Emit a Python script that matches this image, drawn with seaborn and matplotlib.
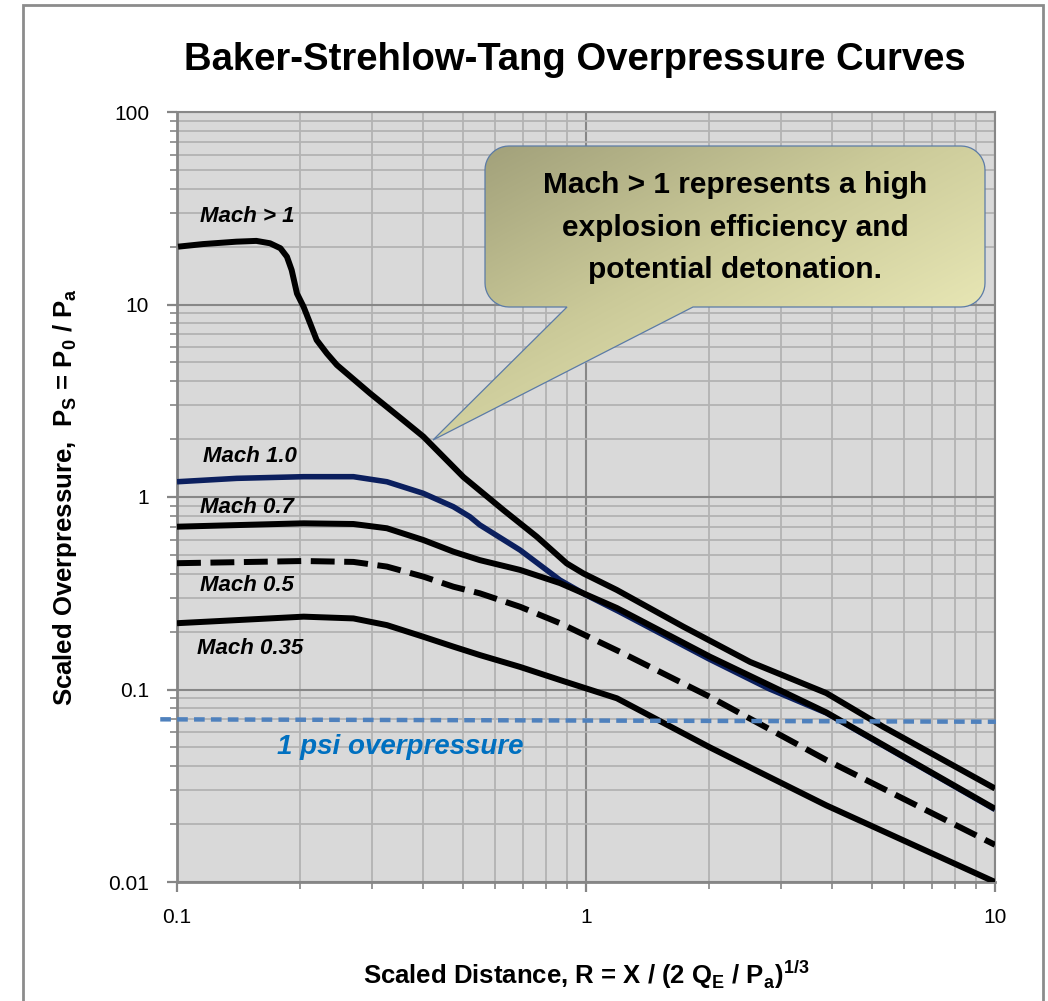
import numpy as np
import matplotlib
matplotlib.use('Agg')
import matplotlib.pyplot as plt
import seaborn as sns
from matplotlib.path import Path
from matplotlib.patches import PathPatch, Rectangle
from matplotlib.colors import LinearSegmentedColormap
from matplotlib.ticker import FuncFormatter, NullFormatter, LogLocator

sns.set_theme(style="whitegrid")
plt.rcParams['font.family'] = ['Liberation Sans', 'DejaVu Sans']
plt.rcParams.update({'text.color': 'black', 'axes.labelcolor': 'black',
                     'xtick.color': 'black', 'ytick.color': 'black'})

# ── data ─────────────────────────────────────────────────────────
mach_gt1_x = [0.1006, 0.1158, 0.1396, 0.1563, 0.1688, 0.179, 0.1857, 0.1907, 0.1965,
              0.2039, 0.2116, 0.2195, 0.2325, 0.246, 0.2963, 0.3571, 0.4003, 0.5015,
              0.628, 0.758, 0.897, 0.985, 1.189, 1.73, 2.52, 3.87, 5.33, 10.0]
mach_gt1_y = [19.97, 20.6, 21.2, 21.4, 20.8, 19.6, 17.7, 15.1, 11.4,
              9.74, 7.98, 6.54, 5.57, 4.85, 3.46, 2.51, 2.06, 1.27,
              0.856, 0.622, 0.452, 0.401, 0.329, 0.212, 0.139, 0.0958, 0.064, 0.0306]

mach10_x = [0.1, 0.14, 0.204, 0.27, 0.326, 0.40, 0.474, 0.52, 0.55, 0.69, 0.864, 1.0,
            1.2, 2.0, 2.8, 3.87, 10.0]
mach10_y = [1.20, 1.25, 1.275, 1.275, 1.20, 1.045, 0.89, 0.79, 0.716, 0.53, 0.37, 0.31,
            0.255, 0.144, 0.101, 0.0755, 0.0238]

mach07_x = [0.1, 0.204, 0.27, 0.326, 0.40, 0.474, 0.55, 0.69, 0.864, 1.19, 2.01, 3.87, 10.0]
mach07_y = [0.701, 0.73, 0.724, 0.688, 0.598, 0.52, 0.47, 0.418, 0.357, 0.265, 0.148, 0.076, 0.024]

mach05_x = [0.1, 0.204, 0.27, 0.326, 0.40, 0.474, 0.55, 0.69, 0.864, 1.21, 2.01, 3.87, 10.0]
mach05_y = [0.453, 0.465, 0.46, 0.435, 0.386, 0.342, 0.316, 0.269, 0.221, 0.157, 0.0915, 0.043, 0.0156]

mach035_x = [0.1, 0.204, 0.27, 0.326, 0.40, 0.474, 0.55, 0.69, 0.864, 1.19, 2.01, 3.87, 10.0]
mach035_y = [0.221, 0.239, 0.234, 0.216, 0.188, 0.167, 0.151, 0.131, 0.112, 0.090, 0.050, 0.025, 0.010]

psi_x = [0.091, 10.05]
psi_y = [0.070, 0.068]

mach_labels = ['Mach > 1', 'Mach 1.0', 'Mach 0.7', 'Mach 0.5', 'Mach 0.35']
label_x = [0.1139, 0.1155, 0.1139, 0.1139, 0.1119]
label_y = [28.5, 1.63, 0.877, 0.349, 0.164]

callout_lines = ['Mach > 1 represents a high', 'explosion efficiency and', 'potential detonation.']

BG = '#D9D9D9'; MAJ = '#878787'; MIN = '#B3B3B3'
NAVY = '#0B1F5E'; PSI = '#4F81BD'; PSI_TXT = '#0070C0'

fig = plt.figure(figsize=(10.48, 10.01), dpi=100)
fig.patch.set_facecolor('white')
ax = fig.add_axes([177/1048, 1-882/1001, (995-177)/1048, (882-112)/1001])
ax.set_facecolor(BG)
ax.set_xscale('log'); ax.set_yscale('log')

# curves
sns.lineplot(x=mach10_x, y=mach10_y, ax=ax, color=NAVY, lw=4, zorder=3)
sns.lineplot(x=mach_gt1_x, y=mach_gt1_y, ax=ax, color='black', lw=4.3, zorder=4)
sns.lineplot(x=mach07_x, y=mach07_y, ax=ax, color='black', lw=4.3, zorder=4)
sns.lineplot(x=mach05_x, y=mach05_y, ax=ax, color='black', lw=4.3, zorder=4)
ax.lines[-1].set_dashes((4.0, 1.6))
sns.lineplot(x=mach035_x, y=mach035_y, ax=ax, color='black', lw=4.3, zorder=4)
sns.lineplot(x=psi_x, y=psi_y, ax=ax, color=PSI, lw=3.2, zorder=5)
ax.lines[-1].set_dashes((2.4, 1.4))
ax.lines[-1].set_clip_on(False)
for ln in ax.lines:
    ln.set_solid_joinstyle('round'); ln.set_solid_capstyle('butt')

for t, x, y in zip(mach_labels, label_x, label_y):
    ax.text(x, y, t, fontsize=16, fontweight='bold', fontstyle='italic',
            ha='left', va='center', zorder=6)
ax.text(0.351, 0.0502, '1 psi overpressure', fontsize=20, fontweight='bold',
        fontstyle='italic', color=PSI_TXT, ha='center', va='center', zorder=6)

ax.set_xlim(0.1, 10); ax.set_ylim(0.01, 100)
ax.xaxis.set_minor_locator(LogLocator(base=10, subs=np.arange(2, 10)))
ax.yaxis.set_minor_locator(LogLocator(base=10, subs=np.arange(2, 10)))
fmt = FuncFormatter(lambda v, p: f'{v:g}')
ax.xaxis.set_major_formatter(fmt); ax.yaxis.set_major_formatter(fmt)
ax.xaxis.set_minor_formatter(NullFormatter()); ax.yaxis.set_minor_formatter(NullFormatter())
ax.grid(True, which='major', color=MAJ, lw=1.5, zorder=1)
ax.grid(True, which='minor', color=MIN, lw=1.3, zorder=1)
ax.set_axisbelow(True)
ax.tick_params(which='both', direction='out', color='#868686', labelsize=15,
               labelcolor='black', bottom=True, left=True)
ax.tick_params(which='major', length=7, width=1.6)
ax.tick_params(which='minor', length=5, width=1.2)
ax.tick_params(axis='x', pad=12)
ax.tick_params(axis='y', pad=13)
for side in ['left', 'bottom']:
    ax.spines[side].set_color('#868686'); ax.spines[side].set_linewidth(2)
for side in ['top', 'right']:
    ax.spines[side].set_color(MAJ); ax.spines[side].set_linewidth(1.5)
ax.set_xlabel(''); ax.set_ylabel('')

# titles / labels
fig.text(575/1048, 1-60/1001, 'Baker-Strehlow-Tang Overpressure Curves',
         fontsize=27.5, fontweight='bold', ha='center', va='center')
fig.text(586/1048, 1-975/1001,
         r'Scaled Distance, R = X / (2 Q$_\mathregular{E}$ / P$_\mathregular{a}$)$^\mathregular{1/3}$',
         fontsize=18.5, fontweight='bold', ha='center', va='center')
fig.text(65/1048, 1-497/1001,
         r'Scaled Overpressure,  P$_\mathregular{S}$ = P$_\mathregular{0}$ / P$_\mathregular{a}$',
         fontsize=18.5, fontweight='bold', ha='center', va='center', rotation=90)

# outer frame
fig.add_artist(Rectangle((23/1048, -0.02), (1043-23)/1048, 1.02-5/1001,
                         transform=fig.transFigure, fill=False,
                         edgecolor='#8C8C8C', lw=2))

# callout (pixel coords overlay)
ov = fig.add_axes([0, 0, 1, 1], zorder=10)
ov.set_xlim(0, 1048); ov.set_ylim(1001, 0); ov.axis('off')
L, R, T, B, r = 485, 985, 146, 307, 24
tip = (433, 440)

def arc(cx, cy, a0, a1):
    a = np.radians(np.linspace(a0, a1, 12))
    return list(zip(cx + r*np.cos(a), cy + r*np.sin(a)))

verts = [(L + r, B), (567, B), tip, (693, B)]
verts += arc(R - r, B - r, 90, 0)
verts += arc(R - r, T + r, 0, -90)
verts += arc(L + r, T + r, -90, -180)
verts += arc(L + r, B - r, 180, 90)
verts.append(verts[0])
codes = [Path.MOVETO] + [Path.LINETO]*(len(verts) - 2) + [Path.CLOSEPOLY]
shape = PathPatch(Path(verts, codes), facecolor='none', edgecolor='#5B7BA6', lw=0.9, zorder=3)
ov.add_patch(shape)

gx = np.linspace(0, 1, 300)
gy = np.linspace(0, 1, 300)
grad = (gx[None, :] + gy[:, None]) / 2
cmap = LinearSegmentedColormap.from_list('callout', ['#9D9C77', '#CBCA99', '#EDECBA'])
im = ov.imshow(grad, cmap=cmap, extent=(tip[0], R, tip[1], T), origin='upper',
               aspect='auto', zorder=2, vmin=0, vmax=0.85)
im.set_clip_path(shape)
ov.set_xlim(0, 1048); ov.set_ylim(1001, 0)

for i, line in enumerate(callout_lines):
    ov.text(735, 185 + 42.5*i, line, fontsize=21.5, fontweight='bold',
            ha='center', va='center', zorder=4)

plt.savefig('out.png', dpi=100, facecolor='white')
plt.close()
